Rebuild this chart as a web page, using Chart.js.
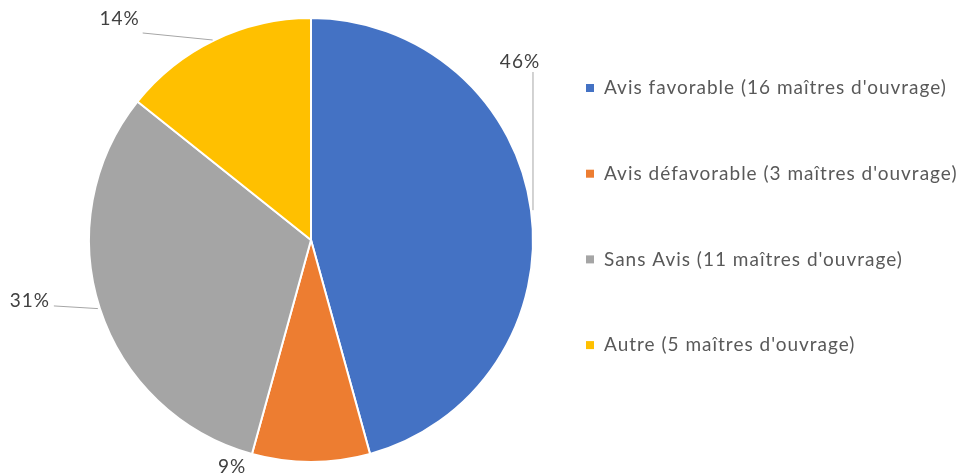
<!DOCTYPE html>
<html>
<head>
<meta charset="utf-8">
<script src="https://cdn.jsdelivr.net/npm/chart.js@4.4.1/dist/chart.umd.min.js"></script>
<style>
  html, body { margin: 0; padding: 0; background: #fff; }
  #wrap { width: 960px; height: 474px; position: relative; }
</style>
</head>
<body>
<div id="wrap"><canvas id="chart"></canvas></div>
<script>
// Data
const categories = [
  "Avis favorable (16 maîtres d'ouvrage)",
  "Avis défavorable (3 maîtres d'ouvrage)",
  "Sans Avis (11 maîtres d'ouvrage)",
  "Autre (5 maîtres d'ouvrage)"
];
const counts = [16, 3, 11, 5];
const colors = ['#4472C4', '#ED7D31', '#A5A5A5', '#FFC000'];

const FONT = '19px Lato, "Open Sans", sans-serif';

// leader line / label placement per slice (relative to arc mid-point)
const labelPlacement = [
  { kind: 'up', dx: 2, lineTop: 72, tx: -13, ty: 62 },
  { kind: 'none', dx: -79, dy: 5 },
  { kind: 'left', len: 46, tx: -70, ty: -8 },
  { kind: 'left', len: 72, tx: -95, ty: -21 }
];

const pctLabels = {
  id: 'pctLabels',
  afterDatasetsDraw(chart) {
    const ctx = chart.ctx;
    const meta = chart.getDatasetMeta(0);
    const total = counts.reduce((a, b) => a + b, 0);
    ctx.save();
    ctx.font = FONT;
    ctx.letterSpacing = '1px';
    ctx.fillStyle = '#404040';
    ctx.strokeStyle = '#A6A6A6';
    ctx.lineWidth = 1;
    ctx.textAlign = 'center';
    ctx.textBaseline = 'middle';
    meta.data.forEach((arc, i) => {
      const p = arc.getProps(['x', 'y', 'startAngle', 'endAngle', 'outerRadius'], true);
      const mid = (p.startAngle + p.endAngle) / 2;
      const ax = p.x + Math.cos(mid) * p.outerRadius;
      const ay = p.y + Math.sin(mid) * p.outerRadius;
      const txt = Math.round(counts[i] / total * 100) + '%';
      const pl = labelPlacement[i];
      if (pl.kind === 'up') {
        ctx.beginPath();
        ctx.moveTo(ax + pl.dx, ay);
        ctx.lineTo(ax + pl.dx, pl.lineTop);
        ctx.stroke();
        ctx.fillText(txt, ax + pl.dx + pl.tx, pl.ty);
      } else if (pl.kind === 'left') {
        ctx.beginPath();
        ctx.moveTo(ax - 2, ay);
        ctx.lineTo(ax - pl.len, ay + pl.ty / 3);
        ctx.stroke();
        ctx.fillText(txt, ax + pl.tx, ay + pl.ty);
      } else {
        ctx.fillText(txt, ax + pl.dx, ay + pl.dy);
      }
    });
    ctx.restore();
  }
};

const sideLegend = {
  id: 'sideLegend',
  afterDraw(chart) {
    const ctx = chart.ctx;
    ctx.save();
    ctx.font = FONT;
    ctx.letterSpacing = '1px';
    ctx.textBaseline = 'middle';
    const x0 = 586, y0 = 88, step = 85.7;
    categories.forEach((c, i) => {
      const y = y0 + i * step;
      ctx.fillStyle = colors[i];
      ctx.fillRect(x0, y - 4, 8, 8);
      ctx.fillStyle = '#595959';
      ctx.fillText(c, x0 + 18, y);
    });
    ctx.restore();
  }
};

new Chart(document.getElementById('chart'), {
  type: 'pie',
  data: {
    labels: categories,
    datasets: [{
      data: counts,
      backgroundColor: colors,
      borderColor: '#ffffff',
      borderWidth: 2
    }]
  },
  options: {
    responsive: true,
    maintainAspectRatio: false,
    animation: false,
    layout: { padding: { left: 88, right: 426, top: 17, bottom: 11 } },
    plugins: {
      legend: { display: false },
      tooltip: { enabled: false }
    }
  },
  plugins: [pctLabels, sideLegend]
});
</script>
</body>
</html>
